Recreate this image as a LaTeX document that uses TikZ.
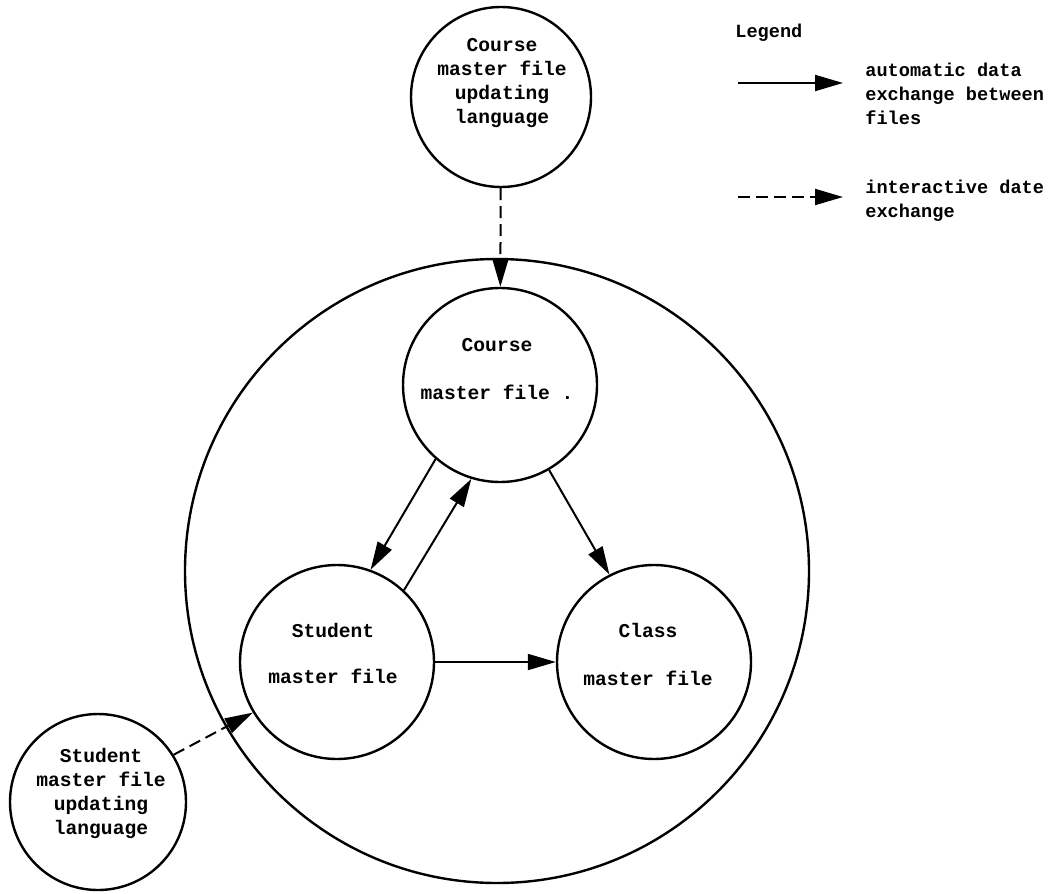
\documentclass[tikz,border=0pt]{standalone}
\usepackage{fontspec}
\setmainfont{Liberation Mono}
\usetikzlibrary{arrows.meta}

\begin{document}
\begin{tikzpicture}
      [x=.5pt, y=-.5pt,
        file/.style={circle, draw, line width=1.2pt, inner sep=0pt, minimum size=97pt},
        txt/.style={font=\bfseries\fontsize{9.8}{12}\selectfont, align=center},
        key/.style={txt, font=\bfseries\fontsize{9.3}{12}\selectfont, align=left, anchor=west, inner sep=0pt},
        flow/.style={-{Triangle[length=14pt, width=8pt]}, line width=1pt},
        inter/.style={flow, dash pattern=on 6pt off 3pt}]
      \useasboundingbox (0,0) rectangle (1052,893);
      \node[file, minimum size=312pt] (system) at (497,571) {};
      \node[file, minimum size=90pt] (cupd) at (501,97) {};
      \node[txt] (cupdT) at (502,83) {Course\\master file\\updating\\language};
      \node[file] (course) at (500,385) {};
      \node[txt] (courseT) at (497,369) {Course\\[12pt]master file .};
      \node[file] (student) at (337,662) {};
      \node[txt] (studentT) at (333,653) {Student\\[11pt]master file};
      \node[file] (class) at (654,662) {};
      \node[txt] (classT) at (648,654) {Class\\[12pt]master file};
      \node[file, minimum size=88pt] (supd) at (98,802) {};
      \node[txt] (supdT) at (101,793) {Student\\master file\\updating\\language};
      \draw[inter] (cupd) -- (course);
      \draw[flow] (course.229) -- (student.70);
      \draw[flow] (student.47) -- (course.253);
      \draw[flow] (course.300) -- (class.117);
      \draw[flow] (student) -- (class);
      \draw[inter] (supd.32) -- (student.211);
      \node[key] (legend) at (735,33) {Legend};
      \coordinate (autoA) at (738,83);
      \coordinate (autoB) at (843,83);
      \draw[flow] (autoA) -- (autoB);
      \node[key] (autoT) at (865,94) {automatic data\\exchange between\\files};
      \coordinate (interA) at (738,197);
      \coordinate (interB) at (843,197);
      \draw[inter] (interA) -- (interB);
      \node[key] (interT) at (865,201) {interactive date\\exchange};
\end{tikzpicture}
\end{document}
